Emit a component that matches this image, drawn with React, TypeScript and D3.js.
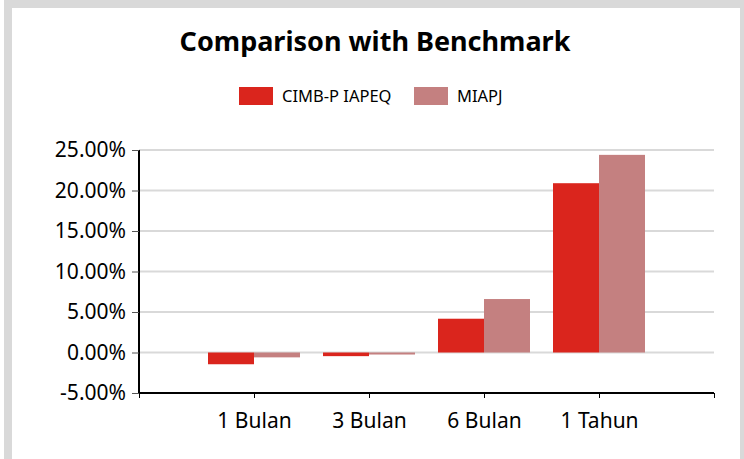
import { useEffect, useRef } from 'react';
import * as d3 from 'd3';

const categories = ['1 Bulan', '3 Bulan', '6 Bulan', '1 Tahun'];
const seriesNames = ['CIMB-P IAPEQ', 'MIAPJ'];
const fundValues = [-1.45, -0.45, 4.17, 20.9];
const benchmarkValues = [-0.6, -0.25, 6.6, 24.4];
const yTicks = [-5, 0, 5, 10, 15, 20, 25];
const seriesColors = ['#da251d', '#c48080'];

const width = 744;
const height = 459;
const plot = { left: 139, right: 714, top: 150, bottom: 393 };
const font = '"Noto Sans", "Open Sans", sans-serif';

const App = () => {
    const svgRef = useRef<SVGSVGElement>(null);

    useEffect(() => {
        const svg = d3.select(svgRef.current);
        svg.selectAll('*').remove();

        // category centres sit on the boundaries of five equal slots
        const x = d3
            .scalePoint<string>()
            .domain(['_start', ...categories, '_end'])
            .range([plot.left, plot.right]);
        const step = x.step();
        const inner = d3
            .scaleBand<string>()
            .domain(seriesNames)
            .range([-step * 0.4, step * 0.4]);
        const y = d3.scaleLinear().domain([-5, 25]).range([plot.bottom, plot.top]);
        const color = d3.scaleOrdinal<string, string>().domain(seriesNames).range(seriesColors);

        // outer frame
        svg.append('rect')
            .attr('x', 8)
            .attr('y', 4)
            .attr('width', 736)
            .attr('height', 520)
            .attr('fill', 'none')
            .attr('stroke', '#d9d9d9')
            .attr('stroke-width', 8);

        // title
        svg.append('text')
            .attr('x', 375)
            .attr('y', 51)
            .attr('text-anchor', 'middle')
            .attr('font-family', font)
            .attr('font-weight', 'bold')
            .attr('font-size', 27)
            .attr('fill', '#000')
            .text('Comparison with Benchmark');

        // legend
        const legendX = [239, 414];
        const legend = svg
            .selectAll('.legend-item')
            .data(seriesNames)
            .join('g')
            .attr('class', 'legend-item')
            .attr('transform', (_, i) => `translate(${legendX[i]}, 87)`);
        legend.append('rect').attr('width', 34).attr('height', 18).attr('fill', d => color(d));
        legend
            .append('text')
            .attr('x', 43)
            .attr('y', 15)
            .attr('font-family', font)
            .attr('font-size', 16.5)
            .attr('fill', '#000')
            .text(d => d);

        // gridlines
        svg.append('g')
            .selectAll('line')
            .data(yTicks.filter(t => t !== -5))
            .join('line')
            .attr('x1', plot.left)
            .attr('x2', plot.right)
            .attr('y1', d => y(d))
            .attr('y2', d => y(d))
            .attr('stroke', '#d9d9d9')
            .attr('stroke-width', 2);

        // bars
        const rows = categories.map((c, i) => ({
            name: c,
            values: [
                { name: seriesNames[0], value: fundValues[i] },
                { name: seriesNames[1], value: benchmarkValues[i] },
            ],
        }));
        svg.append('g')
            .selectAll('g')
            .data(rows)
            .join('g')
            .attr('transform', d => `translate(${x(d.name)},0)`)
            .selectAll('rect')
            .data(d => d.values)
            .join('rect')
            .attr('x', d => inner(d.name) ?? 0)
            .attr('width', inner.bandwidth())
            .attr('y', d => y(Math.max(0, d.value)))
            .attr('height', d => Math.abs(y(d.value) - y(0)))
            .attr('fill', d => color(d.name));

        // y axis
        const yAxis = svg
            .append('g')
            .attr('transform', `translate(${plot.left},0)`)
            .call(
                d3
                    .axisLeft(y)
                    .tickValues(yTicks)
                    .tickSize(7)
                    .tickPadding(6)
                    .tickFormat(d => `${(+d).toFixed(2)}%`)
            );
        yAxis.select('.domain').attr('stroke', '#000').attr('stroke-width', 2).attr('d', `M0,${plot.top}V${plot.bottom}`);
        yAxis.selectAll('.tick line').attr('stroke', '#555');
        yAxis.selectAll('.tick text')
            .attr('font-family', font)
            .attr('font-size', 21)
            .attr('fill', '#000');

        // x axis: ticks on the slot boundaries, labels under them
        const xAxis = svg
            .append('g')
            .attr('transform', `translate(0,${plot.bottom})`)
            .call(d3.axisBottom(x).tickSize(5).tickPadding(15).tickFormat(d => (d.startsWith('_') ? '' : d)));
        xAxis.select('.domain').attr('stroke', '#000').attr('stroke-width', 2).attr('d', `M${plot.left},0H${plot.right}`);
        xAxis.selectAll('.tick line').attr('stroke', '#000');
        xAxis.selectAll('.tick text')
            .attr('font-family', font)
            .attr('font-size', 21)
            .attr('fill', '#000');
    }, []);

    return (
        <div style={{ position: 'absolute', left: 0, top: 0 }}>
            <svg ref={svgRef} width={width} height={height} style={{ display: 'block' }}></svg>
        </div>
    );
};

export default App;
